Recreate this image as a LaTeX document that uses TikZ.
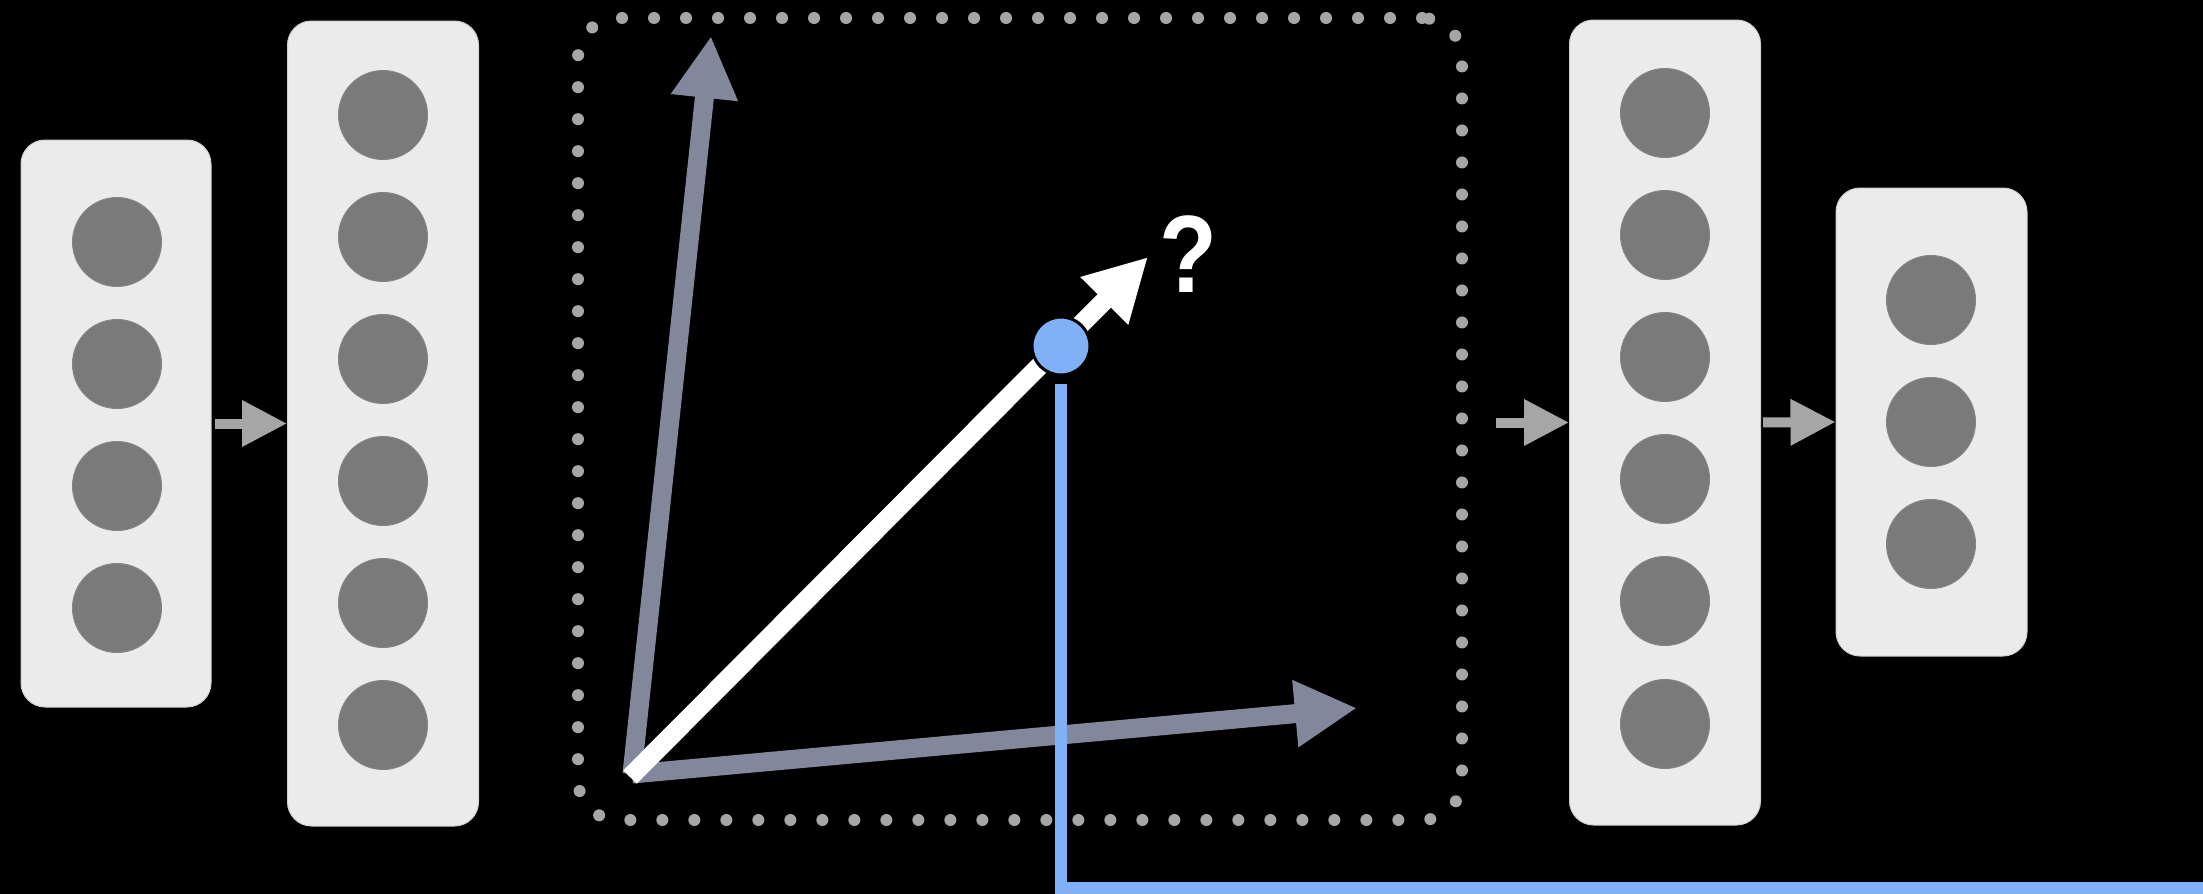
\documentclass[tikz,border=0pt]{standalone}
\usepackage{fontspec}
\setmainfont{Liberation Sans}
\usetikzlibrary{arrows.meta}
\definecolor{boxfill}{HTML}{EBEBEB}
\definecolor{boxedge}{HTML}{CFCFCF}
\definecolor{neuronfill}{HTML}{7A7A7A}
\definecolor{neuronedge}{HTML}{858585}
\definecolor{arrowgray}{HTML}{A6A6A6}
\definecolor{vecgray}{HTML}{82879B}
\definecolor{ptblue}{HTML}{80B0F8}
\begin{document}
\begin{tikzpicture}[x=1pt,y=-1pt,
  layerbox/.style={draw=boxedge, line width=1pt, fill=boxfill, rounded corners=24pt, inner sep=0pt, minimum width=191pt},
  neuron/.style={circle, fill=neuronfill, draw=neuronedge, line width=1pt, minimum size=89pt, inner sep=0pt},
  blockarrow/.style={draw=arrowgray, line width=10pt, -{Triangle[length=45pt,width=44pt]}},
  dotbox/.style={draw=arrowgray, line width=12pt, line cap=round, dash pattern=on 0pt off 32pt, rounded corners=40pt, inner sep=0pt},
  vecarrow/.style={line width=19pt, -{Triangle[length=62pt,width=63pt]}},
  blueline/.style={draw=ptblue, line width=12pt, line join=miter},
  bluept/.style={circle, fill=ptblue, draw=black, line width=3pt, minimum size=58pt, inner sep=0pt},
  qmark/.style={text=white, inner sep=0pt, xscale=0.86, font=\bfseries\fontsize{110pt}{110pt}\selectfont}]
\useasboundingbox (0,0) rectangle (2203,894);
\fill[black] (0,0) rectangle (2203,894);
% layers
\node[layerbox, minimum width=190pt, minimum height=567pt] (b1) at (116,423.5) {};
\node[layerbox, minimum height=805pt] (b2) at (383,423.5) {};
\node[layerbox, minimum height=805pt] (b3) at (1665,422.5) {};
\node[layerbox, minimum height=468pt] (b4) at (1931.5,422) {};
\foreach \y [count=\i] in {242,364,486,608} \node[neuron] (b1n\i) at (117,\y) {};
\foreach \y [count=\i] in {115,237,359,481,603,725} \node[neuron] (b2n\i) at (383,\y) {};
\foreach \y [count=\i] in {113,235,357,479,601,724} \node[neuron] (b3n\i) at (1665,\y) {};
\foreach \y [count=\i] in {300,422,544} \node[neuron] (b4n\i) at (1931,\y) {};
% block arrows
\draw[blockarrow, shorten <=3pt] (b1.east) -- (b2.west);
\coordinate (a3s) at (1496,422.5);
\draw[blockarrow] (a3s) -- (b3.west);
\draw[blockarrow, shorten <=2pt] (b3.east) -- (b4.west);
% dotted space
\node[dotbox, minimum width=884pt, minimum height=802pt] (space) at (1020,419) {};
% vectors
\coordinate (O) at (632,774);
\coordinate (up) at (711,36);
\coordinate (rt) at (1357,708);
\coordinate (wO) at (630,777);
\coordinate (wt) at (1148,257);
\draw[vecarrow, draw=vecgray] (O) -- (up);
\draw[vecarrow, draw=vecgray] (O) -- (rt);
\draw[vecarrow, draw=white] (wO) -- (wt);
% point and projection line
\node[bluept] (pt) at (1061,346) {};
\coordinate (edge) at (2203,888);
\draw[blueline, shorten <=7pt] (pt.south) |- (edge);
\node[qmark] (q) at (1188,254) {?};
\end{tikzpicture}
\end{document}
